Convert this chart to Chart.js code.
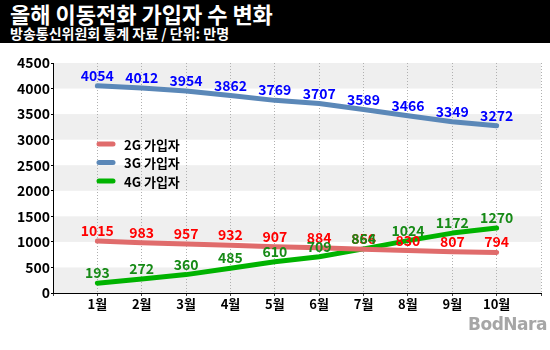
<!DOCTYPE html>
<html>
<head>
<meta charset="utf-8">
<script src="https://cdn.jsdelivr.net/npm/chart.js@4"></script>
<style>
  html, body { margin: 0; padding: 0; background: #fff; }
  #wrap { position: relative; width: 550px; height: 350px; overflow: hidden; }
  #head { position: absolute; left: 0; top: 0; width: 550px; height: 43px; background: #000; z-index: 2;
          font-family: "Noto Sans CJK KR", sans-serif; font-weight: bold; color: #fff; }
  #title { position: absolute; left: 10px; top: -1px; font-size: 22px; line-height: 28px; white-space: nowrap; }
  #sub { position: absolute; left: 10px; top: 25px; font-size: 14px; line-height: 16px; white-space: nowrap; }
  #mark { position: absolute; left: 468px; top: 314px; font: bold 17px "DejaVu Sans", sans-serif; color: #a6a6a6; letter-spacing: -0.5px; }
  canvas { position: absolute; left: 0; top: 0; }
</style>
</head>
<body>
<div id="wrap">
  <div id="head">
    <div id="title">올해 이동전화 가입자 수 변화</div>
    <div id="sub">방송통신위원회 통계 자료 / 단위: 만명</div>
  </div>
  <canvas id="chart" width="550" height="350"></canvas>
  <div id="mark">BodNara</div>
</div>
<script>
// Monthly subscribers (unit: 10,000 people)
const months = ['1월', '2월', '3월', '4월', '5월', '6월', '7월', '8월', '9월', '10월'];
const subs2G = [1015, 983, 957, 932, 907, 884, 856, 830, 807, 794];
const subs3G = [4054, 4012, 3954, 3862, 3769, 3707, 3589, 3466, 3349, 3272];
const subs4G = [193, 272, 360, 485, 610, 709, 864, 1024, 1172, 1270];
const yTicks = [0, 500, 1000, 1500, 2000, 2500, 3000, 3500, 4000, 4500];

const FONT = '"Noto Sans CJK KR", sans-serif';

const toPoints = arr => arr.map((v, i) => ({ x: i + 1, y: v }));

// Alternating grey bands behind the plot
const bandsPlugin = {
  id: 'bands',
  beforeDraw(chart) {
    const { ctx, chartArea: a, scales: { y } } = chart;
    ctx.save();
    ctx.fillStyle = '#efefef';
    for (let i = 0; i < yTicks.length - 1; i += 2) {
      const top = y.getPixelForValue(yTicks[i + 1]);
      const bot = y.getPixelForValue(yTicks[i]);
      ctx.fillRect(a.left, top, a.right - a.left, bot - top);
    }
    ctx.restore();
  }
};

// Value labels above each point + legend inside the plot
const labelsPlugin = {
  id: 'valueLabels',
  afterDatasetsDraw(chart) {
    const { ctx } = chart;
    ctx.save();
    ctx.font = 'bold 14px ' + FONT;
    ctx.textAlign = 'center';
    ctx.textBaseline = 'alphabetic';
    chart.data.datasets.forEach((ds, di) => {
      const meta = chart.getDatasetMeta(di);
      ctx.fillStyle = ds.labelColor;
      meta.data.forEach((pt, i) => {
        ctx.fillText(String(ds.data[i].y), pt.x, pt.y - 5);
      });
    });

    // legend
    const lx = 99, ly = 144, step = 18.5;
    chart.data.datasets.forEach((ds, di) => {
      const yy = ly + di * step;
      ctx.strokeStyle = ds.borderColor;
      ctx.lineWidth = 5;
      ctx.lineCap = 'round';
      ctx.beginPath();
      ctx.moveTo(lx, yy);
      ctx.lineTo(lx + 14, yy);
      ctx.stroke();
      ctx.fillStyle = '#000';
      ctx.font = 'bold 13px ' + FONT;
      ctx.textAlign = 'left';
      ctx.textBaseline = 'middle';
      ctx.fillText(ds.label, lx + 25, yy + 1);
    });
    ctx.restore();
  }
};

new Chart(document.getElementById('chart'), {
  type: 'line',
  data: {
    datasets: [
      { label: '2G 가입자', data: toPoints(subs2G), borderColor: '#e06c6c', labelColor: '#ff0000' },
      { label: '3G 가입자', data: toPoints(subs3G), borderColor: '#5b88b8', labelColor: '#0000ff' },
      { label: '4G 가입자', data: toPoints(subs4G), borderColor: '#00b300', labelColor: '#168a16' }
    ]
  },
  options: {
    responsive: false,
    animation: false,
    devicePixelRatio: 1,
    layout: { padding: { left: 0, right: 9, top: 63, bottom: 0 } },
    elements: {
      line: { borderWidth: 5, tension: 0, borderCapStyle: 'round', borderJoinStyle: 'round', fill: false },
      point: { radius: 0, hoverRadius: 0 }
    },
    plugins: {
      legend: { display: false },
      tooltip: { enabled: false },
      title: { display: false }
    },
    scales: {
      x: {
        type: 'linear',
        min: 0,
        max: 11,
        afterFit(s) { s.height = 57; },
        ticks: {
          stepSize: 1,
          autoSkip: false,
          maxRotation: 0,
          padding: 0,
          color: '#000',
          font: { family: FONT, size: 13, weight: 'bold' },
          callback: v => months[v - 1] || ''
        },
        grid: {
          color: '#b0b0b0',
          lineWidth: 1,
          tickLength: 3,
          tickColor: '#444',
          tickBorderDash: []
        },
        border: { display: true, color: '#000', width: 1, dash: [1, 2] }
      },
      y: {
        min: 0,
        max: 4500,
        afterFit(s) { s.width = 53; },
        afterBuildTicks(s) { s.ticks = yTicks.map(v => ({ value: v })); },
        ticks: {
          padding: 1,
          color: '#000',
          font: { family: FONT, size: 14, weight: 'bold' },
          callback: v => String(v)
        },
        grid: {
          drawOnChartArea: false,
          tickLength: 2,
          tickColor: '#000'
        },
        border: { display: true, color: '#000', width: 1 }
      }
    }
  },
  plugins: [bandsPlugin, labelsPlugin]
});
</script>
</body>
</html>
